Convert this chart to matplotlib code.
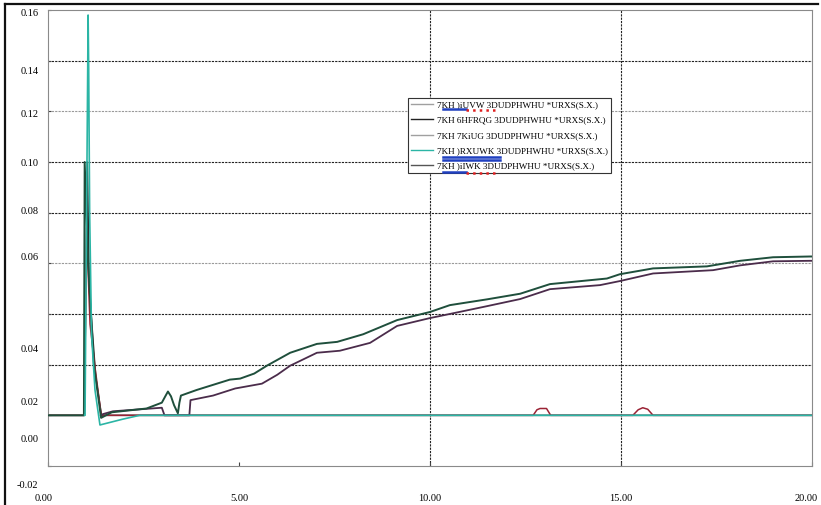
import matplotlib.pyplot as plt
from matplotlib.lines import Line2D
from matplotlib.transforms import Affine2D

# values
x_first = [0, 0.95, 1.01, 1.10, 1.23, 1.40, 1.45, 12.70, 12.80, 12.88, 13.05, 13.16,
           15.31, 15.45, 15.57, 15.70, 15.84, 20]
y_first = [0, 0, 0.074, 0.036, 0.019, -0.0008, 0, 0, 0.0022, 0.0027, 0.0027, 0,
           0, 0.0022, 0.003, 0.0024, 0, 0]

x_second = [0, 0.94, 0.96, 1.05, 1.20, 1.39, 1.67, 2.58, 2.98, 3.07, 3.14, 3.22, 3.30,
            3.40, 3.44, 3.48, 3.89, 4.76, 5.03, 5.40, 5.73, 6.34, 7.04, 7.57, 8.25, 9.14,
            10.0, 10.52, 11.5, 12.36, 13.14, 14.63, 14.97, 15.84, 17.25, 18.12, 18.98, 19.95, 20]
y_second = [0, 0, 0.10, 0.06, 0.02, -0.001, 0.0012, 0.0027, 0.005, 0.0075, 0.0094, 0.0075,
            0.004, 0.0008, 0.005, 0.0078, 0.010, 0.0141, 0.0145, 0.0165, 0.0196, 0.0247, 0.0282,
            0.029, 0.032, 0.0376, 0.0408, 0.0435, 0.0458, 0.048, 0.0518, 0.054, 0.0557, 0.058,
            0.0588, 0.061, 0.0624, 0.0627, 0.0627]

x_third = [0, 0.95, 1.03, 1.08, 1.25, 1.40, 20]
y_third = [0, 0, 0.10, 0.05, 0.015, 0, 0]

x_fourth = [0.96, 0.97, 1.05, 1.065, 1.09, 1.14, 1.23, 1.36, 1.96, 2.40, 20]
y_fourth = [0, 0, 0.158, 0.137, 0.08, 0.032, 0.01, -0.0038, -0.0015, 0, 0]

x_fifth = [1.38, 1.44, 1.70, 2.98, 3.05, 3.70, 3.73, 4.32, 4.90, 5.60, 6.00, 6.34, 7.04, 7.64,
           8.43, 9.14, 10.0, 10.26, 11.4, 12.36, 13.14, 14.45, 14.97, 15.84, 17.41, 18.12,
           18.98, 19.95, 20]
y_fifth = [0, 0.0005, 0.0016, 0.003, 0, 0, 0.006, 0.0078, 0.0106, 0.0125, 0.016, 0.0196, 0.0247,
           0.0255, 0.0286, 0.0353, 0.0384, 0.0392, 0.0428, 0.0459, 0.0498, 0.0514, 0.053, 0.056,
           0.0573, 0.0592, 0.0608, 0.061, 0.061]

labels = ["7KH )iUVW 3DUDPHWHU *URXS(S.X.)",
          "7KH 6HFRQG 3DUDPHWHU *URXS(S.X.)",
          "7KH 7KiUG 3DUDPHWHU *URXS(S.X.)",
          "7KH )RXUWK 3DUDPHWHU *URXS(S.X.)",
          "7KH )iIWK 3DUDPHWHU *URXS(S.X.)"]

xticks = [0, 5, 10, 15, 20]
xlabels = ["0.00", "5.00", "10.00", "15.00", "20.00"]
yticks = [-0.02, 0.00, 0.02, 0.04, 0.06, 0.08, 0.10, 0.12, 0.14, 0.16]
ylabels = ["-0.02", "0.00", "0.02", "0.04", "0.06", "0.08", "0.10", "0.12", "0.14", "0.16"]

W, H = 821, 505
fig = plt.figure(figsize=(W / 100, H / 100), dpi=100)
ax = fig.add_axes([48 / W, 1 - 466 / H, (812 - 48) / W, (466 - 10) / H])

# grid: dark dashed and light dashed lines as in the scan
dash = (0, (2, 1))
for v in [0.02, 0.04, 0.08, 0.10, 0.14]:
    ax.axhline(v, color="#222222", lw=0.8, ls=dash, zorder=0)
for v in [0.06, 0.12]:
    ax.axhline(v, color="#9a9a9a", lw=0.8, ls=dash, zorder=0)
for v in [10, 15]:
    ax.axvline(v, color="#222222", lw=0.8, ls=dash, zorder=0)

ax.plot(x_third, y_third, color="#2a2a2a", lw=1.1, zorder=1)
ax.plot(x_first, y_first, color="#9b2335", lw=1.1, zorder=2)
ax.plot(x_fifth, y_fifth, color="#4b2c4b", lw=1.3, zorder=3)
ax.plot(x_second, y_second, color="#1f4f3c", lw=1.4, zorder=4)
ax.plot(x_fourth, y_fourth, color="#2bb5a5", lw=1.2, zorder=5)

ax.set_xlim(0, 20)
ax.set_ylim(-0.02, 0.16)
for s in ax.spines.values():
    s.set_color("#8a8a8a")
    s.set_linewidth(0.8)

ax.set_xticks(xticks)
ax.set_xticklabels(xlabels, family="Liberation Serif", fontsize=7.5)
ax.set_yticks(yticks)
ax.set_yticklabels(ylabels, family="Liberation Serif", fontsize=7.5)
ax.tick_params(axis="x", direction="in", length=3, pad=20, color="#444444")
ax.tick_params(axis="y", direction="in", length=2, pad=7, color="#444444")

# the scanned labels sit off their gridlines; shift each one by the same amount
yshift = [19, 23, 37, 35, -7, -2, 0, 2, 10, 2]
for lab, dy in zip(ax.get_yticklabels(), yshift):
    lab.set_transform(lab.get_transform() + Affine2D().translate(0, -dy))
xshift = [-4, 0, 0, 0, -6]
for lab, dx in zip(ax.get_xticklabels(), xshift):
    lab.set_transform(lab.get_transform() + Affine2D().translate(dx, 0))

# legend as it appears in the picture
leg_colors = ["#a0a0a0", "#222222", "#a0a0a0", "#2bb5a5", "#555555"]
handles = [Line2D([], [], color=c, lw=1.0) for c in leg_colors]
leg = ax.legend(handles, labels, loc="upper left", bbox_to_anchor=(408 / W, 1 - 98 / H),
                bbox_transform=fig.transFigure, borderaxespad=0, fancybox=False,
                framealpha=1, edgecolor="#333333", prop={"family": "Liberation Serif", "size": 6.6},
                handlelength=2.4, handletextpad=0.5, borderpad=0.3, labelspacing=0.75)
leg.get_frame().set_linewidth(0.8)
leg.set_zorder(10)


def px(x, y):
    return x / W, 1 - y / H


# spell-check marks
for (xa, xb, y, c, style) in [(443, 466, 109, "#2040c0", "-"), (466, 495, 110, "#e02020", ":"),
                               (443, 500, 157, "#2040c0", "-"), (443, 500, 159.5, "#2040c0", "-"),
                               (443, 466, 172, "#2040c0", "-"), (466, 495, 173, "#e02020", ":")]:
    (fx0, fy), (fx1, _) = px(xa, y), px(xb, y)
    fig.add_artist(Line2D([fx0, fx1], [fy, fy], transform=fig.transFigure, color=c,
                          lw=1.8, ls=style, zorder=20))

# outer frame of the scanned page
fig.add_artist(Line2D([5 / W, 5 / W], [0, 1 - 4 / H], transform=fig.transFigure, color="#111111", lw=1.6))
fig.add_artist(Line2D([5 / W, 818 / W], [1 - 4 / H, 1 - 4 / H], transform=fig.transFigure, color="#111111", lw=1.6))

fig.savefig("out.png", dpi=100)
